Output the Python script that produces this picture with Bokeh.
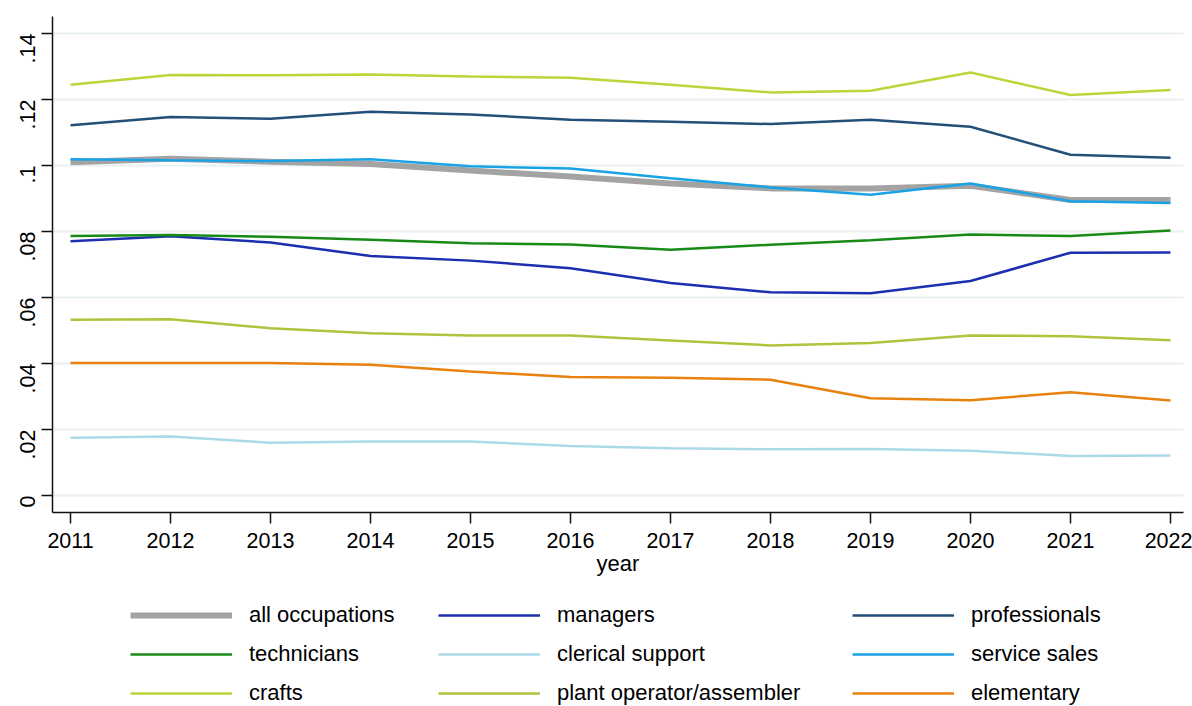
import math
from bokeh.plotting import figure
from bokeh.layouts import column
from bokeh.models import Legend, LegendItem, FixedTicker, Range1d
from bokeh.embed import file_html
from bokeh.resources import INLINE

# Share of employment by occupation group, 2011-2022
years = list(range(2011, 2023))

all_occupations = [0.1010, 0.1021, 0.1012, 0.1005, 0.0985, 0.0967, 0.0946, 0.0931, 0.0931, 0.0939, 0.0896, 0.0896]
managers        = [0.0771, 0.0786, 0.0767, 0.0726, 0.0712, 0.0689, 0.0644, 0.0616, 0.0613, 0.0650, 0.0736, 0.0737]
professionals   = [0.1122, 0.1147, 0.1142, 0.1163, 0.1155, 0.1139, 0.1133, 0.1126, 0.1139, 0.1118, 0.1033, 0.1024]
technicians     = [0.0787, 0.0790, 0.0784, 0.0775, 0.0765, 0.0761, 0.0745, 0.0760, 0.0774, 0.0791, 0.0787, 0.0803]
clerical        = [0.0175, 0.0179, 0.0160, 0.0164, 0.0164, 0.0150, 0.0143, 0.0140, 0.0141, 0.0136, 0.0120, 0.0121]
service_sales   = [0.1019, 0.1016, 0.1014, 0.1019, 0.0998, 0.0991, 0.0962, 0.0934, 0.0912, 0.0946, 0.0892, 0.0887]
crafts          = [0.1245, 0.1275, 0.1274, 0.1276, 0.1270, 0.1266, 0.1245, 0.1222, 0.1227, 0.1282, 0.1214, 0.1229]
plant_operator  = [0.0533, 0.0534, 0.0507, 0.0492, 0.0485, 0.0485, 0.0470, 0.0455, 0.0462, 0.0485, 0.0483, 0.0471]
elementary      = [0.0402, 0.0402, 0.0402, 0.0396, 0.0376, 0.0359, 0.0357, 0.0351, 0.0295, 0.0289, 0.0313, 0.0288]

y_ticks = [0.0, 0.02, 0.04, 0.06, 0.08, 0.10, 0.12, 0.14]
y_tick_labels = ["0", ".02", ".04", ".06", ".08", ".1", ".12", ".14"]

FONT = "Liberation Sans"

series = [
    ("all occupations", all_occupations, "#a3a3a3", 6),
    ("managers", managers, "#1b2fb0", 2.5),
    ("professionals", professionals, "#234f78", 2.5),
    ("technicians", technicians, "#178a17", 2.5),
    ("clerical support", clerical, "#acd9e8", 2.5),
    ("service sales", service_sales, "#1aa2e6", 2.5),
    ("crafts", crafts, "#bad63a", 2.5),
    ("plant operator/assembler", plant_operator, "#b3c23d", 2.5),
    ("elementary", elementary, "#e8820f", 2.5),
]

# ---- main chart ----
p = figure(width=1192, height=588, output_backend="svg", toolbar_location=None,
           x_range=Range1d(2010.82, 2022.13), y_range=Range1d(-0.00515, 0.1452),
           min_border_left=52, min_border_right=9, min_border_top=16, min_border_bottom=76,
           background_fill_color="white", border_fill_color="white")
p.outline_line_color = None

p.xaxis.ticker = FixedTicker(ticks=years)
p.yaxis.ticker = FixedTicker(ticks=y_ticks)
p.yaxis.major_label_overrides = dict(zip(y_ticks, y_tick_labels))
p.yaxis.major_label_orientation = math.pi / 2
p.xaxis.axis_label = "year"
for ax in (p.xaxis, p.yaxis):
    ax.axis_line_color = "#111111"
    ax.axis_line_width = 1.5
    ax.major_tick_line_color = "#111111"
    ax.major_tick_line_width = 1.5
    ax.major_tick_in = 0
    ax.major_tick_out = 11
    ax.minor_tick_line_color = None
    ax.major_label_text_font = FONT
    ax.major_label_text_font_size = "21.5px"
    ax.major_label_text_color = "#000000"
    ax.axis_label_text_font = FONT
    ax.axis_label_text_font_size = "22px"
    ax.axis_label_text_font_style = "normal"
    ax.axis_label_text_color = "#000000"
p.xaxis.major_label_standoff = 9
p.xaxis.axis_label_standoff = 0
p.yaxis.major_label_standoff = 14

p.xgrid.grid_line_color = None
p.ygrid.grid_line_color = "#e8f0f2"
p.ygrid.grid_line_width = 2

for label, vals, color, w in series:
    p.line(years, vals, line_color=color, line_width=w)

# ---- legend strip (its frame lines up with the chart frame above) ----
lg = figure(width=1192, height=118, output_backend="svg", toolbar_location=None,
            x_range=Range1d(0, 1), y_range=Range1d(0, 1),
            x_axis_type=None, y_axis_type=None,
            min_border_left=52, min_border_right=9, min_border_top=0, min_border_bottom=0,
            background_fill_color="white", border_fill_color="white")
lg.outline_line_color = None
lg.xgrid.grid_line_color = None
lg.ygrid.grid_line_color = None

# key renderers: same series, lying outside this strip's visible ranges
items = []
for label, vals, color, w in series:
    key = lg.line(years, vals, line_color=color, line_width=w)
    items.append(LegendItem(label=label, renderers=[key]))

col_x = [78, 386, 800]
for i, x0 in enumerate(col_x):
    leg = Legend(items=items[i::3], location=(x0, 0), orientation="vertical",
                 glyph_width=102, glyph_height=18, label_height=18,
                 label_standoff=17, spacing=13, padding=0, margin=0,
                 border_line_color=None, background_fill_alpha=0,
                 label_text_font=FONT, label_text_font_size="22px",
                 label_text_color="#000000")
    lg.add_layout(leg)

layout = column(p, lg, spacing=0)
open("out.html", "w").write(file_html(layout, INLINE))
